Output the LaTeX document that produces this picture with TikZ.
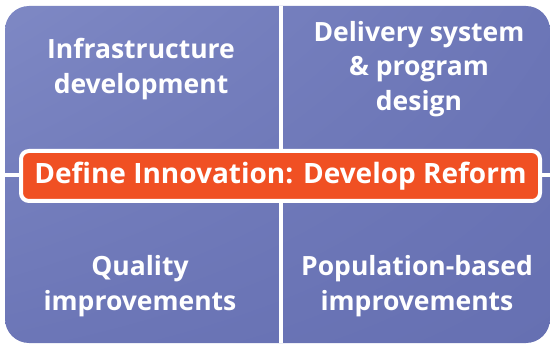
\documentclass[tikz,border=0pt]{standalone}
\usepackage{fontspec}
\setmainfont{Open Sans}
\usetikzlibrary{positioning,shadings}

\definecolor{quadlight}{HTML}{7E88C4}
\definecolor{quadmid}{HTML}{6C76B7}
\definecolor{quaddark}{HTML}{6670B2}
\definecolor{reformorange}{HTML}{F05023}

\tikzset{
  quadtext/.style={text=white,align=center,
    font=\bfseries\fontsize{26.5}{34.5}\selectfont},
  reformbar/.style={draw=white,line width=4pt,fill=reformorange,
    rounded corners=8pt,text=white,inner sep=0pt,
    font=\bfseries\fontsize{28}{32}\selectfont},
}

\begin{document}
\begin{tikzpicture}[x=1pt,y=-1pt]
  \useasboundingbox (0,0) rectangle (550,345);
  % the four quadrants as one rounded block
  \shade[rounded corners=24pt,upper left=quadlight,upper right=quadmid,
    lower left=quadmid,lower right=quaddark] (5,6) rectangle (550,343);
  % white gaps between the quadrants
  \fill[white] (279,6) rectangle (283,343);
  \fill[white] (5,173) rectangle (550,177);

  \node[quadtext] (infra) at (141,69) {Infrastructure\\development};
  \node[quadtext] (delivery) at (419,69) {Delivery system\\\& program\\design};
  \node[quadtext] (quality) at (140,286) {Quality\\improvements};
  \node[quadtext] (population) at (417,286) {Population-based\\improvements};

  \node[reformbar,minimum width=519pt,minimum height=50pt] (reform) at (280.5,176)
    {Define Innovation: Develop Reform};
\end{tikzpicture}
\end{document}
